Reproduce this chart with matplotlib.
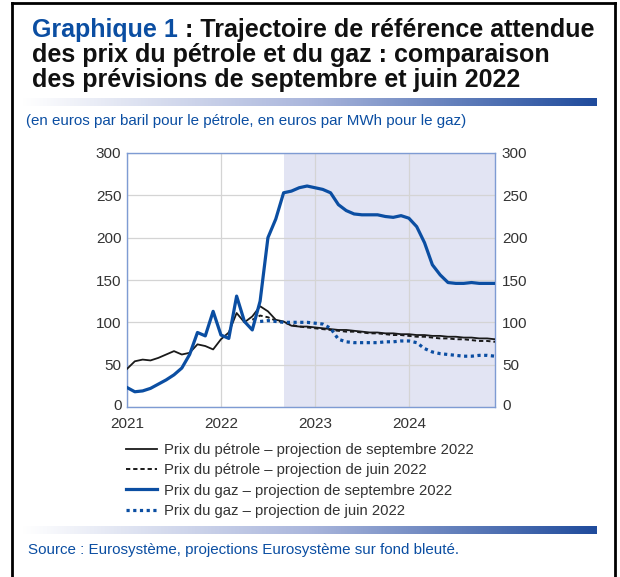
import numpy as np
import matplotlib
matplotlib.use("Agg")
import matplotlib.pyplot as plt
import matplotlib.transforms as mtrans
from matplotlib.lines import Line2D
from matplotlib.colors import LinearSegmentedColormap

# monthly data, Jan 2021 .. Dec 2024
months = 2021 + np.arange(48) / 12
oil_sep = [45, 54, 56, 55, 58, 62, 66, 62, 64, 74,
           72, 68, 80, 88, 111, 100, 107, 119, 113, 103,
           101, 96, 95, 95, 94, 93, 92, 91, 91, 90,
           89, 88, 88, 87, 87, 86, 86, 85, 85, 84,
           84, 83, 83, 82, 82, 81, 81, 80]
gas_sep = [23, 18, 19, 22, 27, 32, 38, 46, 62, 88,
           84, 113, 85, 81, 131, 101, 91, 125, 200, 222,
           253, 255, 259, 261, 259, 257, 253, 239, 232, 228,
           227, 227, 227, 225, 224, 226, 223, 213, 194, 168,
           156, 147, 146, 146, 147, 146, 146, 146]
oil_jun_start = 16
oil_jun = [103, 108, 106, 102, 100, 97, 95, 94, 93, 92,
           91, 90, 89, 89, 88, 87, 87, 86, 85, 85,
           84, 83, 83, 82, 81, 81, 80, 80, 79, 78,
           78, 77]
gas_jun_start = 17
gas_jun = [101, 102, 101, 100, 100, 100, 100, 99, 98, 93,
           80, 77, 76, 76, 76, 76, 77, 77, 78, 78,
           76, 69, 65, 63, 62, 61, 60, 60, 61, 61,
           60]
proj_start = 20  # Sep 2022
year_ticks = [2021, 2022, 2023, 2024]
y_ticks = [0, 50, 100, 150, 200, 250, 300]

labels = ["Prix du pétrole \u2013 projection de septembre 2022",
          "Prix du pétrole \u2013 projection de juin 2022",
          "Prix du gaz \u2013 projection de septembre 2022",
          "Prix du gaz \u2013 projection de juin 2022"]

BLUE = "#0b4ea2"
plt.rcParams["font.family"] = ["Liberation Sans", "DejaVu Sans"]

W, H = 620, 577
fig = plt.figure(figsize=(W / 100, H / 100), dpi=100)

def fx(px):
    return px / W

def fy(py):
    return 1 - py / H

ax = fig.add_axes([fx(127), fy(407), fx(495) - fx(127), fy(153) - fy(407)])
ax.axvspan(months[proj_start], months[-1], color="#e2e4f3", lw=0, zorder=0)
ax.plot(months, oil_sep, color="#1a1a1a", lw=1.3, zorder=3)
ax.plot(months[oil_jun_start:], oil_jun, color="#1a1a1a", lw=1.4,
        ls=(0, (2.2, 1.5)), zorder=3)
ax.plot(months, gas_sep, color=BLUE, lw=2.3, zorder=4,
        solid_joinstyle="round")
ax.plot(months[gas_jun_start:], gas_jun, color=BLUE, lw=2.3,
        ls=(0, (1, 1.1)), zorder=4)

ax.set_xlim(months[0], months[-1])
ax.set_ylim(0, 300)
ax.set_xticks(year_ticks)
ax.set_xticklabels([str(y) for y in year_ticks])
ax.set_yticks(y_ticks)
ax.grid(True, color="#d4d4d4", lw=0.9, zorder=1)
ax.set_axisbelow(True)
ax.tick_params(length=0, labelsize=11, labelcolor="#333333")
ax.tick_params(axis="x", pad=7)
ax.tick_params(axis="y", pad=4)
for s in ax.spines.values():
    s.set_color("#7e9bd3")
    s.set_linewidth(1)

ax2 = ax.twinx()
ax2.set_ylim(0, 300)
ax2.set_yticks(y_ticks)
ax2.tick_params(length=0, labelsize=11, labelcolor="#333333", pad=5)
for s in ax2.spines.values():
    s.set_visible(False)

# lift the "0" labels a little, as in the reference
lift = mtrans.ScaledTranslation(0, 3 / 100, fig.dpi_scale_trans)
for a, lab in [(ax, ax.get_yticklabels()[0]), (ax2, ax2.get_yticklabels()[0])]:
    lab.set_transform(lab.get_transform() + lift)

handles = [Line2D([], [], color="#1a1a1a", lw=1.3),
           Line2D([], [], color="#1a1a1a", lw=1.4, ls=(0, (2.2, 1.5))),
           Line2D([], [], color=BLUE, lw=2.3),
           Line2D([], [], color=BLUE, lw=2.3, ls=(0, (1, 1.1)))]
leg = fig.legend(handles, labels, loc="upper left",
                 bbox_to_anchor=(fx(126), fy(443)), frameon=False,
                 fontsize=10.75, handlelength=2.1, handletextpad=0.45,
                 labelspacing=0.42, borderpad=0, borderaxespad=0)
for t in leg.get_texts():
    t.set_color("#333333")

# title
renderer = fig.canvas.get_renderer()
t1 = fig.text(fx(32), fy(37), "Graphique 1", color=BLUE, fontsize=18,
              fontweight="bold", va="baseline")
bb = t1.get_window_extent(renderer)
fig.text(bb.x1 / W, fy(37), " : Trajectoire de référence attendue",
         color="#111111", fontsize=18, fontweight="bold", va="baseline")
fig.text(fx(32), fy(62), "des prix du pétrole et du gaz : comparaison",
         color="#111111", fontsize=18, fontweight="bold", va="baseline")
fig.text(fx(32), fy(87), "des prévisions de septembre et juin 2022",
         color="#111111", fontsize=18, fontweight="bold", va="baseline")

fig.text(fx(26), fy(125),
         "(en euros par baril pour le pétrole, en euros par MWh pour le gaz)",
         color=BLUE, fontsize=10.9, va="baseline")
fig.text(fx(28), fy(554),
         "Source : Eurosystème, projections Eurosystème sur fond bleuté.",
         color=BLUE, fontsize=10.9, va="baseline")

# gradient bars
cmap = LinearSegmentedColormap.from_list("bar", ["#ffffff", "#aab6dc", "#1f4b9c"])
grad = np.linspace(0, 1, 256).reshape(1, -1)
for top, bot in [(98, 106), (526, 534)]:
    bax = fig.add_axes([fx(22), fy(bot), fx(597) - fx(22), fy(top) - fy(bot)])
    bax.imshow(grad, aspect="auto", cmap=cmap)
    bax.set_axis_off()

# frame
fig.add_artist(Line2D([fx(12), fx(12)], [0, fy(3)], color="black", lw=2))
fig.add_artist(Line2D([fx(615), fx(615)], [0, fy(3)], color="black", lw=2))
fig.add_artist(Line2D([fx(12), fx(615)], [fy(3), fy(3)], color="black", lw=2))

fig.savefig("out.png", dpi=100, facecolor="white")
